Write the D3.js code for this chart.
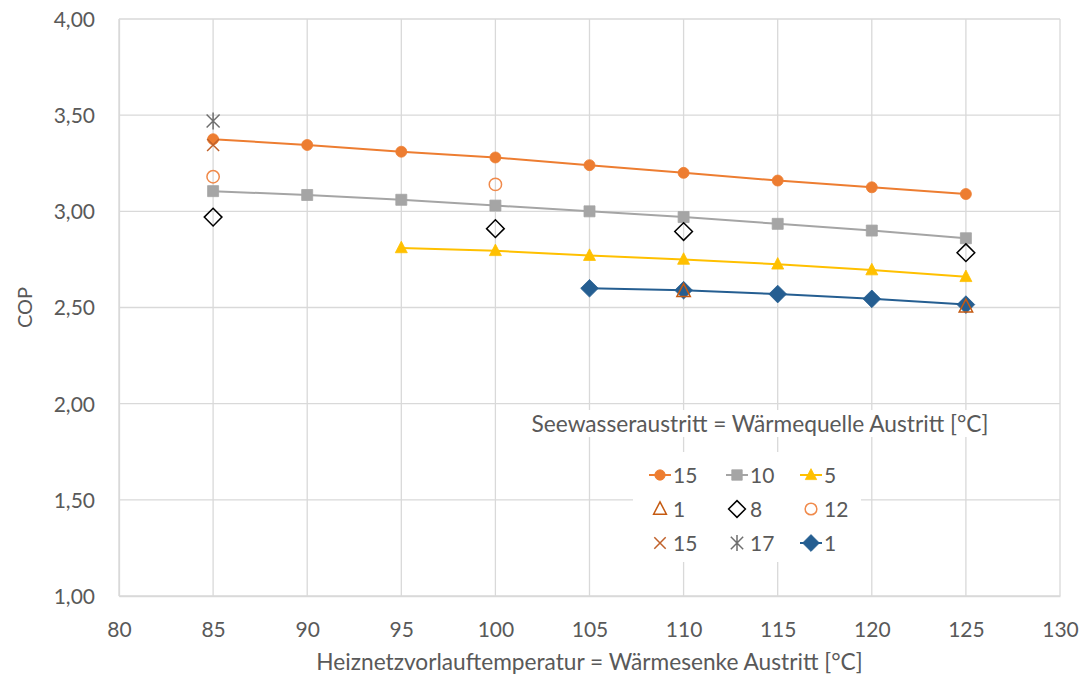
<!DOCTYPE html>
<html>
<head>
<meta charset="utf-8">
<script src="https://cdn.jsdelivr.net/npm/d3@7"></script>
<style>
  html, body { margin: 0; padding: 0; background: #fff; }
  svg { display: block; font-family: Lato, "Open Sans", sans-serif; }
</style>
</head>
<body>
<svg id="chart" width="1081" height="675"></svg>
<script>
// Heat pump COP vs. supply temperature, grouped by source outlet temperature
const xTicks = [80, 85, 90, 95, 100, 105, 110, 115, 120, 125, 130];
const yTicks = [1.0, 1.5, 2.0, 2.5, 3.0, 3.5, 4.0];

const tempsFull = [85, 90, 95, 100, 105, 110, 115, 120, 125];
const cop15 = [3.375, 3.345, 3.31, 3.28, 3.24, 3.20, 3.16, 3.125, 3.09];
const cop10 = [3.105, 3.085, 3.06, 3.03, 3.00, 2.97, 2.935, 2.90, 2.86];

const temps5 = [95, 100, 105, 110, 115, 120, 125];
const cop5 = [2.81, 2.795, 2.77, 2.75, 2.725, 2.695, 2.66];

const temps1 = [105, 110, 115, 120, 125];
const cop1 = [2.60, 2.59, 2.57, 2.545, 2.515];

const tempsTri1 = [110, 125];
const copTri1 = [2.585, 2.505];

const tempsDia8 = [85, 100, 110, 125];
const copDia8 = [2.97, 2.91, 2.895, 2.785];

const tempsCirc12 = [85, 100];
const copCirc12 = [3.18, 3.14];

const tempsX15 = [85];
const copX15 = [3.345];

const tempsStar17 = [85];
const copStar17 = [3.47];

const legendTitle = "Seewasseraustritt = Wärmequelle Austritt [°C]";
const xTitle = "Heiznetzvorlauftemperatur  = Wärmesenke Austritt [°C]";
const yTitle = "COP";

const fmt = v => v.toFixed(2).replace(".", ",");

// series table (drawing order), built from the arrays above
const series = [
  { name: "15", xs: tempsFull, ys: cop15, line: true, marker: "circle", color: "#ED7D31", fill: true },
  { name: "10", xs: tempsFull, ys: cop10, line: true, marker: "square", color: "#A5A5A5", fill: true },
  { name: "5", xs: temps5, ys: cop5, line: true, marker: "triangle", color: "#FFC000", fill: true },
  { name: "1", xs: temps1, ys: cop1, line: true, marker: "diamond", color: "#255E91", fill: true },
  { name: "1", xs: tempsTri1, ys: copTri1, line: false, marker: "triangle", color: "#C55A11", fill: false },
  { name: "8", xs: tempsDia8, ys: copDia8, line: false, marker: "diamond", color: "#000000", fill: false },
  { name: "12", xs: tempsCirc12, ys: copCirc12, line: false, marker: "circle", color: "#F08A4B", fill: false },
  { name: "15", xs: tempsX15, ys: copX15, line: false, marker: "x", color: "#C0612A", fill: false },
  { name: "17", xs: tempsStar17, ys: copStar17, line: false, marker: "star", color: "#6F6F6F", fill: false }
];
// legend order (3 columns, row by row)
const legendOrder = [0, 1, 2, 4, 5, 6, 7, 8, 3];

const svg = d3.select("#chart");
const margin = { left: 119, right: 1060, top: 19, bottom: 596 };

const x = d3.scaleLinear().domain([80, 130]).range([margin.left, margin.right]);
const y = d3.scaleLinear().domain([1, 4]).range([margin.bottom, margin.top]);

const gridColor = "#D9D9D9";
const textColor = "#595959";

// gridlines
const grid = svg.append("g");
grid.selectAll("line.h").data(yTicks).join("line")
  .attr("x1", margin.left).attr("x2", margin.right)
  .attr("y1", d => y(d)).attr("y2", d => y(d))
  .attr("stroke", gridColor).attr("stroke-width", 1.3);
grid.selectAll("line.v").data(xTicks).join("line")
  .attr("y1", margin.top).attr("y2", margin.bottom)
  .attr("x1", d => x(d)).attr("x2", d => x(d))
  .attr("stroke", gridColor).attr("stroke-width", 1.3);

// axes
const xAxis = svg.append("g").attr("transform", `translate(0,${margin.bottom})`)
  .call(d3.axisBottom(x).tickValues(xTicks).tickSize(0).tickPadding(26).tickFormat(d3.format("d")));
const yAxis = svg.append("g").attr("transform", `translate(${margin.left},0)`)
  .call(d3.axisLeft(y).tickValues(yTicks).tickSize(0).tickPadding(24).tickFormat(fmt));
[xAxis, yAxis].forEach(a => {
  a.select(".domain").attr("stroke", gridColor).attr("stroke-width", 1.3);
  a.selectAll("text").attr("fill", textColor).style("font-size", "21px").style("font-family", "Lato, sans-serif");
});
yAxis.selectAll("text").attr("dy", "0.35em");

svg.append("text").attr("x", (margin.left + margin.right) / 2 + 0).attr("y", 670)
  .attr("text-anchor", "middle").attr("fill", textColor).style("font-size", "22.7px")
  .text(xTitle);
svg.append("text").attr("transform", `translate(32,${y(2.5)}) rotate(-90)`)
  .attr("text-anchor", "middle").attr("fill", textColor).style("font-size", "20px")
  .text(yTitle);

// marker shapes
function markerPath(type, s) {
  switch (type) {
    case "circle": return d3.symbol(d3.symbolCircle, s * s * Math.PI / 4)();
    case "square": return d3.symbol(d3.symbolSquare, s * s)();
    case "triangle": {
      const h = s * 0.9, w = s;
      return `M0,${-h * 0.62}L${w / 2},${h * 0.45}L${-w / 2},${h * 0.45}Z`;
    }
    case "diamond": {
      const r = s * 0.68;
      return `M0,${-r}L${r},0L0,${r}L${-r},0Z`;
    }
    case "x": {
      const r = s / 2;
      return `M${-r},${-r}L${r},${r}M${r},${-r}L${-r},${r}`;
    }
    case "star": {
      const r = s / 2;
      return `M${-r},${-r}L${r},${r}M${r},${-r}L${-r},${r}M0,${-r * 1.3}L0,${r * 1.3}`;
    }
  }
}
const markerSize = { circle: 11, square: 11, triangle: 12, diamond: 13, x: 12, star: 13 };

function drawMarker(g, s, cx, cy, scale) {
  const base = markerSize[s.marker] * (s.fill ? 1 : (s.marker === "circle" || s.marker === "triangle" ? 1.12 : 1));
  const size = base * (scale || 1);
  const p = g.append("path").attr("d", markerPath(s.marker, size))
    .attr("transform", `translate(${cx},${cy})`);
  if (s.fill) p.attr("fill", s.color).attr("stroke", s.color).attr("stroke-width", 0.8);
  else p.attr("fill", "none").attr("stroke", s.color).attr("stroke-width", 1.5);
}

// series lines and markers; the open "1" triangles sit above the blue diamonds
const plot = svg.append("g");
const drawOrder = [0, 1, 2, 5, 6, 7, 8, 3, 4];
drawOrder.forEach(i => {
  const s = series[i];
  const pts = s.xs.map((t, k) => [t, s.ys[k]]);
  const g = plot.append("g");
  if (s.line) {
    g.append("path").datum(pts)
      .attr("d", d3.line().x(d => x(d[0])).y(d => y(d[1])))
      .attr("fill", "none").attr("stroke", s.color).attr("stroke-width", 2);
  }
  pts.forEach(d => drawMarker(g, s, x(d[0]), y(d[1])));
});

// legend: title and entries on white boxes
const leg = svg.append("g");
const titleText = leg.append("text").attr("x", 760).attr("y", 432)
  .attr("text-anchor", "middle").attr("fill", textColor).style("font-size", "22.7px")
  .text(legendTitle);
const tb = titleText.node().getBBox();
leg.insert("rect", "text").attr("x", tb.x - 4).attr("y", tb.y).attr("width", tb.width + 8).attr("height", tb.height)
  .attr("fill", "#fff");

leg.append("rect").attr("x", 633).attr("y", 452).attr("width", 228).attr("height", 110).attr("fill", "#fff");

const colX = [660, 737, 811];
const rowY = [475, 509, 543];
legendOrder.forEach((si, k) => {
  const s = series[si];
  const cx = colX[k % 3], cy = rowY[Math.floor(k / 3)];
  const g = leg.append("g");
  if (s.line) {
    g.append("line").attr("x1", cx - 11).attr("x2", cx + 11).attr("y1", cy).attr("y2", cy)
      .attr("stroke", s.color).attr("stroke-width", 2);
  }
  drawMarker(g, s, cx, cy, 0.95);
  g.append("text").attr("x", cx + 13).attr("y", cy).attr("dy", "0.36em")
    .attr("fill", textColor).style("font-size", "21px").text(s.name);
});
</script>
</body>
</html>
